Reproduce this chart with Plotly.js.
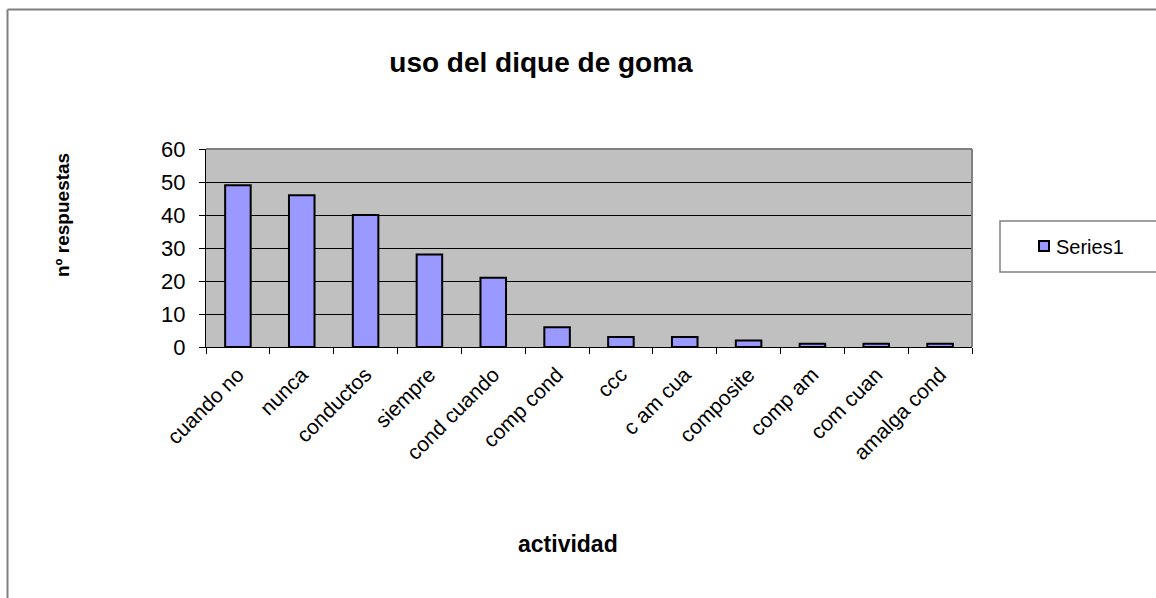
<!DOCTYPE html>
<html>
<head>
<meta charset="utf-8">
<script src="https://cdn.plot.ly/plotly-3.0.1.min.js"></script>
<style>html,body{margin:0;padding:0;background:#fff;}#chart{width:1156px;height:598px;}</style>
</head>
<body>
<div id="chart"></div>
<script>
const categories = ["cuando no","nunca","conductos","siempre","cond cuando","comp cond","ccc","c am cua","composite","comp am","com cuan","amalga cond"];
const values = [49,46,40,28,21,6,3,3,2,1,1,1];
const seriesName = "Series1";
const yTicks = [0,10,20,30,40,50,60];

const W = 1156, H = 598;
const L = 206, R = 972, T = 149, B = 347;
const pw = R - L, ph = B - T;
const px = v => (v - L) / pw;
const py = v => (B - v) / ph;
const FONT = "Liberation Sans, Arial, sans-serif";
const BAR = "#9999FF";

const trace = {
  type: "bar",
  x: categories,
  y: values,
  name: seriesName,
  width: 0.4,
  marker: {color: BAR, line: {color: "#000000", width: 2}},
  showlegend: false
};

const layout = {
  width: W, height: H,
  margin: {l: L, r: W - R, t: T, b: H - B, pad: 0},
  paper_bgcolor: "#ffffff",
  plot_bgcolor: "#C0C0C0",
  font: {family: FONT, size: 19, color: "#000"},
  title: {text: "uso del dique de goma", font: {family: FONT, size: 28, color: "#000", weight: "bold"},
          x: 541 / W, xref: "container", xanchor: "center", y: 1 - 62 / H, yref: "container", yanchor: "middle"},
  xaxis: {
    type: "category",
    tickangle: -45,
    ticks: "outside", ticklen: 6, tickcolor: "#000", tickwidth: 1,
    tickson: "boundaries",
    ticklabelstandoff: 6,
    showline: true, linecolor: "#000", linewidth: 1,
    showgrid: false, zeroline: false,
    tickfont: {family: FONT, size: 21, color: "#000"},
    range: [-0.5, 11.5]
  },
  yaxis: {
    range: [0, 60],
    tickvals: yTicks,
    ticks: "outside", ticklen: 6, tickcolor: "#000", tickwidth: 1,
    ticklabelstandoff: 9,
    showline: true, linecolor: "#000", linewidth: 1,
    showgrid: true, gridcolor: "#000", gridwidth: 1,
    zeroline: false,
    tickfont: {family: FONT, size: 22, color: "#000"}
  },
  showlegend: false,
  annotations: [
    {text: "actividad", xref: "paper", yref: "paper", x: px(568), y: py(544), xanchor: "center", yanchor: "middle",
     showarrow: false, font: {family: FONT, size: 23, color: "#000", weight: "bold"}},
    {text: "nº respuestas", xref: "paper", yref: "paper", x: px(62), y: py(215), xanchor: "center", yanchor: "middle",
     textangle: -90, showarrow: false, font: {family: FONT, size: 19, color: "#000", weight: "bold"}},
    {text: seriesName, xref: "paper", yref: "paper", x: px(1054), y: py(247), xanchor: "left", yanchor: "middle",
     showarrow: false, font: {family: FONT, size: 20, color: "#000"}}
  ],
  shapes: [
    {type: "line", xref: "paper", yref: "paper", x0: 0, x1: 1, y0: 1, y1: 1, line: {color: "#808080", width: 2}},
    {type: "line", xref: "paper", yref: "paper", x0: 1, x1: 1, y0: 0, y1: 1, line: {color: "#808080", width: 2}},
    {type: "line", xref: "paper", yref: "paper", x0: px(7.5), x1: px(1160), y0: py(9.5), y1: py(9.5), line: {color: "#808080", width: 2}},
    {type: "line", xref: "paper", yref: "paper", x0: px(7.5), x1: px(7.5), y0: py(9.5), y1: py(600), line: {color: "#808080", width: 2}},
    {type: "rect", xref: "paper", yref: "paper", x0: px(1000), x1: px(1170), y0: py(221), y1: py(272), line: {color: "#808080", width: 1.5}, fillcolor: "rgba(0,0,0,0)"},
    {type: "rect", xref: "paper", yref: "paper", x0: px(1039), x1: px(1049), y0: py(241), y1: py(251), line: {color: "#000", width: 2}, fillcolor: BAR}
  ]
};

Plotly.newPlot("chart", [trace], layout, {displayModeBar: false, staticPlot: true});
</script>
</body>
</html>
